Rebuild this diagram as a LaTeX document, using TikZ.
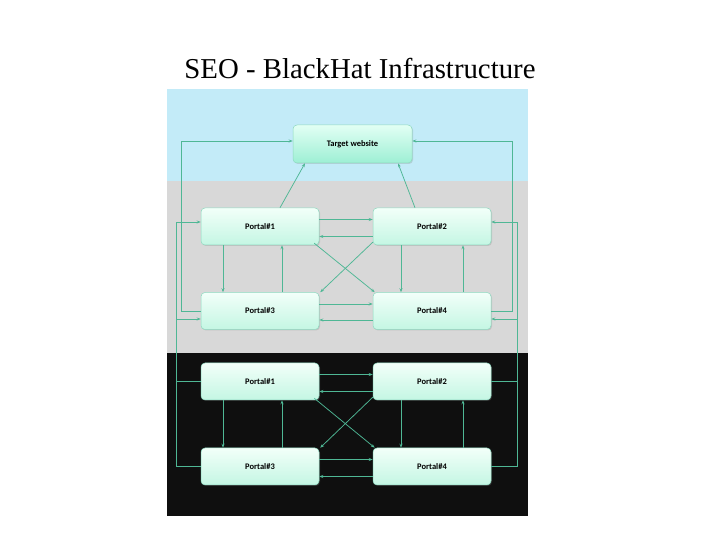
\documentclass[tikz,border=0pt]{standalone}
\usepackage{fontspec}
\setmainfont{Liberation Serif}
\newfontfamily\boxfont{Carlito}
\usepackage{tikz}
\usetikzlibrary{positioning, arrows.meta, shadows}

\definecolor{skyband}{HTML}{C3EBF8}
\definecolor{greyband}{HTML}{D8D8D8}
\definecolor{darkband}{HTML}{0F0F0F}
\definecolor{linkcol}{HTML}{4FB795}
\definecolor{boxline}{HTML}{8ED9C0}
\definecolor{boxtop}{HTML}{F2FFF9}
\definecolor{boxbot}{HTML}{C4F6E3}
\definecolor{tgttop}{HTML}{E2FFF4}
\definecolor{tgtbot}{HTML}{9DEFD4}

\tikzset{
  portal/.style={draw=boxline, line width=0.5pt, rounded corners=4pt,
    top color=boxtop, bottom color=boxbot, minimum width=118pt, minimum height=37pt,
    font=\boxfont\bfseries\fontsize{8.5}{10}\selectfont,
    drop shadow={opacity=0.25, shadow xshift=1pt, shadow yshift=-1pt}},
  target/.style={portal, top color=tgttop, bottom color=tgtbot, minimum width=119pt, minimum height=38pt},
  link/.style={draw=linkcol, line width=0.75pt, -{Stealth[length=4pt, width=3pt]}}
}

\begin{document}
\begin{tikzpicture}[x=1pt, y=1pt]
        \useasboundingbox (0,0) rectangle (720,540);
        \fill[skyband]  (167,451) rectangle (528,359);
        \fill[greyband] (167,359) rectangle (528,187);
        \fill[darkband] (167,187) rectangle (528,24);

        \node[font=\fontsize{28.8}{32}\selectfont] (title) at (360,471) {SEO - BlackHat Infrastructure};

        \node[target] (T)  at (352.5,396) {Target website};
        \node[portal] (g1) at (260,313.5) {Portal\#1};
        \node[portal] (g2) at (432,313.5) {Portal\#2};
        \node[portal] (g3) at (260,229)   {Portal\#3};
        \node[portal] (g4) at (432,229)   {Portal\#4};
        \node[portal] (b1) at (260,158.5) {Portal\#1};
        \node[portal] (b2) at (432,158.5) {Portal\#2};
        \node[portal] (b3) at (260,73.5)  {Portal\#3};
        \node[portal] (b4) at (432,73.5)  {Portal\#4};

        \coordinate (ll) at (181,0);
        \coordinate (lo) at (176,0);
        \coordinate (rl) at (512,0);
        \coordinate (ro) at (517,0);

        \path ([xshift=20pt]g1.north)  edge [link] node []{} ([xshift=-47.5pt]T.south)
              ([xshift=-17pt]g2.north) edge [link] node []{} ([xshift=45.5pt]T.south);

        \path ([yshift=7pt]g1.east)    edge [link] node []{} ([yshift=7pt]g2.west)
              ([yshift=-10pt]g2.west)  edge [link] node []{} ([yshift=-10pt]g1.east)
              ([xshift=-37pt]g1.south) edge [link] node []{} ([xshift=-37pt]g3.north)
              ([xshift=22pt]g3.north)  edge [link] node []{} ([xshift=22pt]g1.south)
              ([xshift=-31pt]g2.south) edge [link] node []{} ([xshift=-31pt]g4.north)
              ([xshift=31pt]g4.north)  edge [link] node []{} ([xshift=31pt]g2.south)
              ([yshift=7pt]g3.east)    edge [link] node []{} ([yshift=7pt]g4.west)
              ([yshift=-9pt]g4.west)   edge [link] node []{} ([yshift=-9pt]g3.east)
              ([shift={(-5pt,2pt)}]g1.south east) edge [link] node []{} ([shift={(2pt,0pt)}]g4.north west)
              ([shift={(0pt,3pt)}]g2.south west)  edge [link] node []{} ([shift={(1pt,0pt)}]g3.north east);

        \path ([yshift=7pt]b1.east)    edge [link] node []{} ([yshift=7pt]b2.west)
              ([yshift=-10pt]b2.west)  edge [link] node []{} ([yshift=-10pt]b1.east)
              ([xshift=-37pt]b1.south) edge [link] node []{} ([xshift=-37pt]b3.north)
              ([xshift=22pt]b3.north)  edge [link] node []{} ([xshift=22pt]b1.south)
              ([xshift=-31pt]b2.south) edge [link] node []{} ([xshift=-31pt]b4.north)
              ([xshift=31pt]b4.north)  edge [link] node []{} ([xshift=31pt]b2.south)
              ([yshift=7pt]b3.east)    edge [link] node []{} ([yshift=7pt]b4.west)
              ([yshift=-10pt]b4.west)  edge [link] node []{} ([yshift=-10pt]b3.east)
              ([shift={(-5pt,2pt)}]b1.south east) edge [link] node []{} ([shift={(2pt,0pt)}]b4.north west)
              ([shift={(0pt,3pt)}]b2.south west)  edge [link] node []{} ([shift={(1pt,0pt)}]b3.north east);

        \draw[link] (g3.west) -- (g3.west -| ll) |- ([yshift=3pt]T.west);
        \draw[link] (g4.east) -- (g4.east -| rl) |- ([yshift=3pt]T.east);
        \draw[link] (b1.west) -- (b1.west -| lo) |- ([yshift=4.5pt]g1.west);
        \draw[link] (b3.west) -- (b3.west -| lo) |- ([yshift=-8pt]g3.west);
        \draw[link] (b2.east) -- (b2.east -| ro) |- ([yshift=4.5pt]g2.east);
        \draw[link] (b4.east) -- (b4.east -| ro) |- ([yshift=-8pt]g4.east);
    \end{tikzpicture}
\end{document}
